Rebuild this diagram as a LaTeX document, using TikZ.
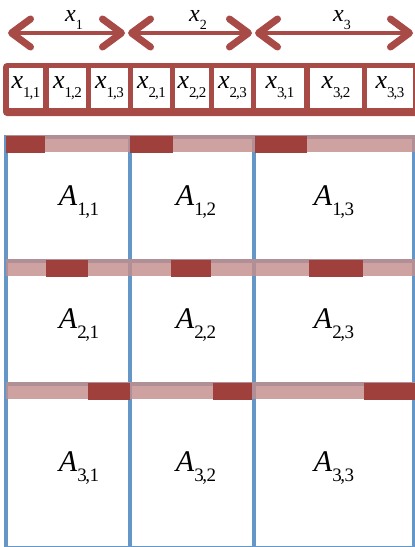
\documentclass[tikz,border=0pt]{standalone}
\usepackage{fontspec}
\setmainfont{Liberation Serif}
\usetikzlibrary{arrows.meta}
\definecolor{brick}{RGB}{168,74,70}
\definecolor{darkbrick}{RGB}{160,64,60}
\definecolor{rose}{RGB}{194,142,140}
\definecolor{steel}{RGB}{100,150,200}
\newcommand{\idx}[3][14]{\textit{#2}\raisebox{-.35em}{\fontsize{#1}{#1}\selectfont#3}}
\newcommand{\sepc}{\kern-.08em,\kern-.03em}

\begin{document}
\begin{tikzpicture}[x=1pt,y=-1pt,
                    part/.style={line width=4pt,draw=brick,
                                 {Straight Barb[length=19pt,width=28pt,line width=7pt,round]}-{Straight Barb[length=19pt,width=28pt,line width=7pt,round]}},
                    cell/.style={fill=white,inner sep=0pt,minimum height=40pt,
                                 font=\fontsize{26}{26}\selectfont},
                    blk/.style={draw=steel,line width=4.5pt,fill=white},
                    band/.style={fill=rose,fill opacity=.82},
                    seg/.style={fill=darkbrick}]
  \useasboundingbox (0,0) rectangle (415,547);
  \clip (0,0) rectangle (415,547);

  % parts of x
  \coordinate (a1l) at (8,33);   \coordinate (a1r) at (125,33);
  \coordinate (a2l) at (128,33); \coordinate (a2r) at (252,33);
  \coordinate (a3l) at (255,33); \coordinate (a3r) at (413,33);
  \draw[part] (a1l) -- (a1r);
  \draw[part] (a2l) -- (a2r);
  \draw[part] (a3l) -- (a3r);
  \foreach \i/\xc in {1/74,2/198,3/342}
    \node[font=\fontsize{24}{24}\selectfont,inner sep=0pt,anchor=base] (x\i) at (\xc,21) {\idx[14]{x}{\i}};

  % vector entries
  \fill[brick,rounded corners=4pt] (3,63) rectangle (430,116);
  \foreach \i/\j/\xc/\w in {1/1/26/34,1/2/67.5/37,1/3/109.5/37,
                            2/1/151.5/37,2/2/192/34,2/3/232.5/37,
                            3/1/280/48,3/2/336/52,3/3/390/46}
    \node[cell,minimum width=\w pt] (c\i\j) at (\xc,88) {\idx[15]{x}{\i\sepc\j}};

  % blocks of A
  \foreach \xl/\xr in {6/130,130/254,254/414}
    \foreach \yt/\yb in {137/261,261/384,384/548}
      \draw[blk] (\xl,\yt) rectangle (\xr,\yb);

  \foreach \y in {137,261,384}
    \fill[band] (6,\y-2) rectangle (416,\y+15);
  \foreach \y/\a/\b in {137/6/45,137/130/173,137/255/307,
                        261/46/88,261/171/211,261/309/363,
                        384/88/130,384/213/252,384/364/416}
    \fill[seg] (\a,\y-1) rectangle (\b,\y+16);

  \foreach \i/\yc in {1/202,2/325,3/468}
    \foreach \j/\xc in {1/79,2/196,3/334}
      \node[font=\fontsize{30}{30}\selectfont] (A\i\j) at (\xc,\yc) {\idx[19]{A}{\i\sepc\j}};
\end{tikzpicture}
\end{document}
